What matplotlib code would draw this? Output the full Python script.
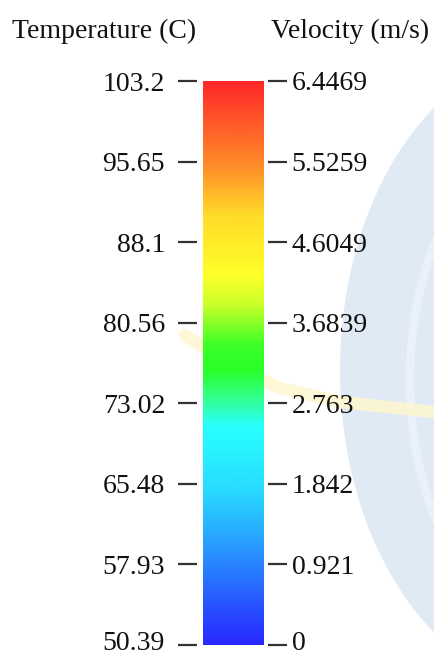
import numpy as np
import matplotlib.pyplot as plt
import matplotlib.transforms as mtransforms
from matplotlib.colors import LinearSegmentedColormap
from matplotlib.patches import Ellipse

# Tick values of the two scales
temp_ticks = [50.39, 57.93, 65.48, 73.02, 80.56, 88.1, 95.65, 103.2]
vel_ticks = [0, 0.921, 1.842, 2.763, 3.6839, 4.6049, 5.5259, 6.4469]
temp_labels = ["50.39", "57.93", "65.48", "73.02", "80.56", "88.1", "95.65", "103.2"]
vel_labels = ["0", "0.921", "1.842", "2.763", "3.6839", "4.6049", "5.5259", "6.4469"]

# Colour stops along the bar (0 = bottom, 1 = top)
stop_pos = [0.0, 0.08, 0.181, 0.275, 0.387, 0.434, 0.488, 0.532, 0.603, 0.656, 0.762, 0.851, 1.0]
stop_rgb = [
    (40, 40, 255), (40, 90, 255), (40, 160, 255), (40, 220, 255), (40, 255, 255),
    (50, 255, 150), (40, 255, 40), (60, 255, 40), (200, 255, 40), (255, 255, 40),
    (255, 220, 40), (255, 140, 40), (255, 40, 40),
]

cmap = LinearSegmentedColormap.from_list(
    "bar", [(p, tuple(c / 255 for c in rgb)) for p, rgb in zip(stop_pos, stop_rgb)]
)

plt.rcParams["font.family"] = ["Liberation Serif", "DejaVu Serif"]

W, H = 434, 656
fig = plt.figure(figsize=(W / 100, H / 100), dpi=100)
fig.patch.set_facecolor("white")

# faint watermark in the background
bg = fig.add_axes([0, 0, 1, 1], zorder=0)
bg.set_xlim(0, W)
bg.set_ylim(H, 0)
bg.axis("off")
bg.add_patch(Ellipse((560, 370), 440, 640, facecolor="#e0eaf4", edgecolor="none"))
bg.add_patch(Ellipse((575, 380), 330, 520, facecolor="none", edgecolor="#eaf1f8", lw=6))
bg.plot([185, 230, 280, 340, 434], [335, 365, 388, 402, 412], color="#fff7cc", lw=9,
        solid_capstyle="round", alpha=0.8)

# colour bar axes (slightly wider than the bar so ticks sit apart from it)
left, right = 197, 268
top, bottom = 81, 645
ax = fig.add_axes([left / W, 1 - bottom / H, (right - left) / W, (bottom - top) / H], zorder=2)
ax.set_facecolor("none")
ax.set_xlim(0, 1)
ax.set_ylim(temp_ticks[0], temp_ticks[-1])

grad = np.linspace(0, 1, 512).reshape(-1, 1)
ax.imshow(grad, cmap=cmap, origin="lower", aspect="auto",
          extent=[6 / 71, 67 / 71, temp_ticks[0], temp_ticks[-1]])
for s in ax.spines.values():
    s.set_visible(False)
ax.set_xticks([])
ax.set_yticks(temp_ticks)
ax.set_yticklabels(temp_labels)
ax.tick_params(axis="y", direction="out", length=14, width=1.6, color="#333333",
               pad=9, labelsize=20, labelcolor="#111111")

ax2 = ax.twinx()
ax2.set_ylim(vel_ticks[0], vel_ticks[-1])
for s in ax2.spines.values():
    s.set_visible(False)
ax2.set_yticks(vel_ticks)
ax2.set_yticklabels(vel_labels)
ax2.tick_params(axis="y", direction="out", length=14, width=1.6, color="#333333",
                pad=3, labelsize=20, labelcolor="#111111")

# lift the lowest labels a little so they stay inside the figure
shift = mtransforms.ScaledTranslation(0, 4 / 100, fig.dpi_scale_trans)
for a in (ax, ax2):
    lab = a.get_yticklabels()[0]
    lab.set_transform(lab.get_transform() + shift)

fig.text(12 / W, 1 - 31 / H, "Temperature (C)", fontsize=20, va="center", ha="left", color="#111111")
fig.text(429 / W, 1 - 31 / H, "Velocity (m/s)", fontsize=20, va="center", ha="right", color="#111111")

fig.savefig("out.png", dpi=100)
